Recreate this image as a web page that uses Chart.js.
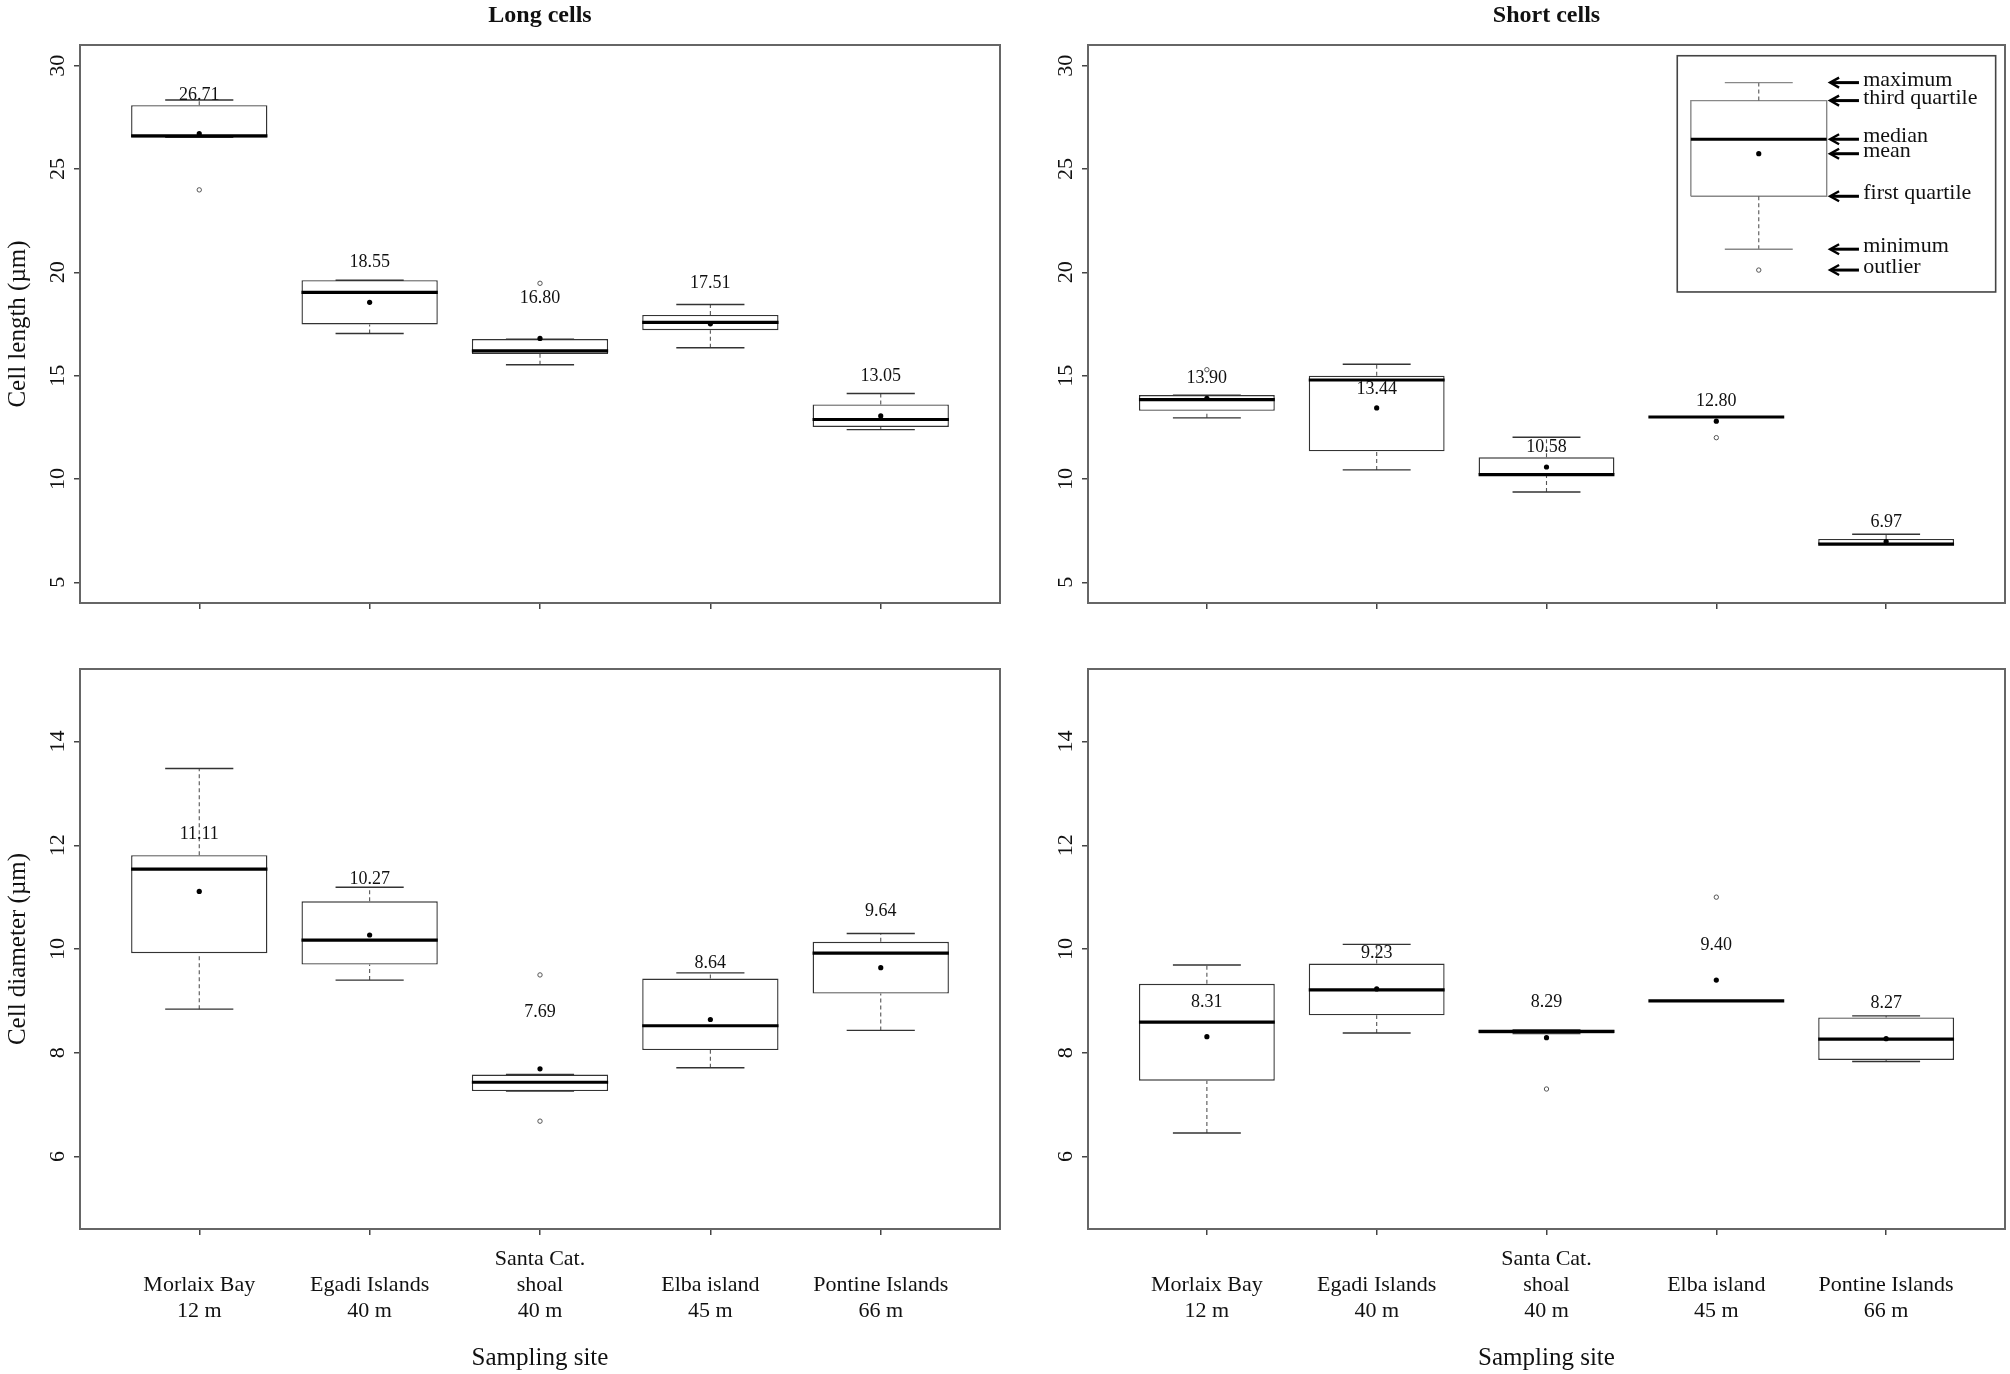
<!DOCTYPE html>
<html>
<head>
<meta charset="utf-8">
<script src="https://cdn.jsdelivr.net/npm/chart.js@4.4.1/dist/chart.umd.min.js"></script>
<style>
  html, body { margin: 0; padding: 0; background: #fff; }
  #wrap { position: relative; width: 2010px; height: 1374px; }
  canvas { position: absolute; }
</style>
</head>
<body>
<div id="wrap">
  <canvas id="longLen" width="1005" height="637" style="left:0;top:0"></canvas>
  <canvas id="shortLen" width="1005" height="637" style="left:1005px;top:0"></canvas>
  <canvas id="longDia" width="1005" height="737" style="left:0;top:637px"></canvas>
  <canvas id="shortDia" width="1005" height="737" style="left:1005px;top:637px"></canvas>
</div>
<script>
// sites on the x axis (empty first line keeps two-line labels aligned with the three-line one)
const siteLabels = [
    ['', 'Morlaix Bay', '12 m'],
    ['', 'Egadi Islands', '40 m'],
    ['Santa Cat.', 'shoal', '40 m'],
    ['', 'Elba island', '45 m'],
    ['', 'Pontine Islands', '66 m']
];
const sitePos = [1, 2, 3, 4, 5];

const lengthTicks = [5, 10, 15, 20, 25, 30];
const diameterTicks = [6, 8, 10, 12, 14];

// Long cells - cell length
const longLenMin = [26.53, 17.04, 15.53, 16.35, 12.39];
const longLenQ1 = [26.53, 17.48, 16.05, 17.20, 12.52];
const longLenMed = [26.60, 19.03, 16.20, 17.58, 12.88];
const longLenQ3 = [28.09, 19.62, 16.77, 17.94, 13.61];
const longLenMax = [28.34, 19.62, 16.77, 18.44, 14.14];
const longLenMean = [26.71, 18.55, 16.80, 17.51, 13.05];
const longLenOut = [[23.99], [], [19.47], [], []];
const longLenLabelY = [28.57, 20.49, 18.75, 19.45, 14.98];

// Short cells - cell length
const shortLenMin = [12.96, 10.44, 9.37, 13.0, 6.85];
const shortLenQ1 = [13.30, 11.34, 10.21, 13.0, 6.85];
const shortLenMed = [13.84, 14.79, 10.21, 13.0, 6.85];
const shortLenQ3 = [14.06, 15.00, 11.05, 13.0, 7.10];
const shortLenMax = [14.06, 15.55, 12.02, 13.0, 7.33];
const shortLenMean = [13.90, 13.44, 10.58, 12.80, 6.97];
const shortLenOut = [[15.29], [], [], [12.0], []];
const shortLenLabelY = [14.87, 14.35, 11.53, 13.74, 7.92];

// Long cells - cell diameter
const longDiaMin = [8.84, 9.40, 7.26, 7.71, 8.43];
const longDiaQ1 = [9.92, 9.70, 7.26, 8.05, 9.14];
const longDiaMed = [11.54, 10.17, 7.43, 8.52, 9.92];
const longDiaQ3 = [11.81, 10.92, 7.58, 9.43, 10.14];
const longDiaMax = [13.48, 11.19, 7.58, 9.54, 10.30];
const longDiaMean = [11.11, 10.27, 7.69, 8.64, 9.64];
const longDiaOut = [[], [], [9.50, 6.68], [], []];
const longDiaLabelY = [12.22, 11.34, 8.78, 9.73, 10.72];

// Short cells - cell diameter
const shortDiaMin = [6.45, 8.38, 8.37, 9.0, 7.83];
const shortDiaQ1 = [7.46, 8.72, 8.37, 9.0, 7.86];
const shortDiaMed = [8.59, 9.21, 8.41, 9.0, 8.26];
const shortDiaQ3 = [9.33, 9.72, 8.44, 9.0, 8.68];
const shortDiaMax = [9.69, 10.09, 8.44, 9.0, 8.71];
const shortDiaMean = [8.31, 9.23, 8.29, 9.40, 8.27];
const shortDiaOut = [[], [], [7.30], [11.0], []];
const shortDiaLabelY = [8.98, 9.91, 8.98, 10.07, 8.95];

// schematic legend box (drawn in the short cell length panel)
const legendKeys = ['maximum', 'third quartile', 'median', 'mean', 'first quartile', 'minimum', 'outlier'];
const legendValues = [29.18, 28.31, 26.44, 25.74, 23.68, 21.12, 20.11];
const legendPos = [4.25];


Chart.defaults.font.family = '"Liberation Serif", "Times New Roman", serif';
Chart.defaults.color = '#111';

const FONT = '"Liberation Serif", "Times New Roman", serif';

function seg(x1, y1, x2, y2) {
    return [{ x: x1, y: y1 }, { x: x2, y: y2 }, { x: x2, y: null }];
}

function lineSet(segs, color, width, dash, order) {
    return {
        type: 'line',
        data: segs.flat(),
        borderColor: color,
        borderWidth: width,
        borderDash: dash,
        borderCapStyle: 'butt',
        pointRadius: 0,
        spanGaps: false,
        tension: 0,
        fill: false,
        xAxisID: 'x',
        yAxisID: 'y',
        order: order
    };
}

function boxplotSets(st, pos, boxColor, useBars) {
    const meds = [], caps = [], stems = [], outs = [], outlines = [];
    pos.forEach((p, i) => {
        meds.push(seg(p - 0.4, st.med[i], p + 0.4, st.med[i]));
        caps.push(seg(p - 0.2, st.max[i], p + 0.2, st.max[i]));
        caps.push(seg(p - 0.2, st.min[i], p + 0.2, st.min[i]));
        if (st.max[i] > st.q3[i]) stems.push(seg(p, st.q3[i], p, st.max[i]));
        if (st.min[i] < st.q1[i]) stems.push(seg(p, st.min[i], p, st.q1[i]));
        st.out[i].forEach(v => outs.push({ x: p, y: v }));
        outlines.push([
            { x: p - 0.4, y: st.q1[i] }, { x: p + 0.4, y: st.q1[i] },
            { x: p + 0.4, y: st.q3[i] }, { x: p - 0.4, y: st.q3[i] },
            { x: p - 0.4, y: st.q1[i] }, { x: p - 0.4, y: null }
        ]);
    });

    const sets = [
        {
            type: 'scatter',
            data: pos.map((p, i) => ({ x: p, y: st.mean[i] })),
            pointRadius: 2.6,
            pointBackgroundColor: '#000',
            pointBorderWidth: 0,
            xAxisID: 'x', yAxisID: 'y',
            order: 0
        },
        {
            type: 'scatter',
            data: outs,
            pointRadius: 2.2,
            pointBackgroundColor: '#fff',
            pointBorderColor: '#555',
            pointBorderWidth: 1,
            xAxisID: 'x', yAxisID: 'y',
            order: 1
        },
        lineSet(meds, '#000', 3.2, [], 2),
        lineSet(caps, boxColor, 1.4, [], 3),
        lineSet(stems, '#555', 1.1, [4, 3], 4)
    ];
    if (useBars) {
        sets.push({
            type: 'bar',
            data: pos.map((p, i) => ({ x: p, y: [st.q1[i], st.q3[i]] })),
            backgroundColor: '#fff',
            borderColor: boxColor,
            borderWidth: 1.4,
            borderSkipped: false,
            barPercentage: 0.8,
            categoryPercentage: 1,
            xAxisID: 'x', yAxisID: 'y',
            order: 5
        });
    } else {
        sets.push(lineSet(outlines, boxColor, 1.4, [], 5));
    }
    return sets;
}

function decorPlugin(opt) {
    return {
        id: 'decor',
        beforeDatasetsDraw(chart) {
            if (!opt.legend) return;
            const xs = chart.scales.x, ys = chart.scales.y, c = chart.ctx;
            const l = xs.getPixelForValue(3.77), r = xs.getPixelForValue(5.645);
            const t = ys.getPixelForValue(30.48), b = ys.getPixelForValue(19.05);
            c.save();
            c.fillStyle = '#fff';
            c.fillRect(l, t, r - l, b - t);
            c.strokeStyle = '#444';
            c.lineWidth = 1.6;
            c.strokeRect(l, t, r - l, b - t);
            c.restore();
        },
        afterDraw(chart) {
            const xs = chart.scales.x, ys = chart.scales.y, c = chart.ctx, a = chart.chartArea;
            c.save();
            c.strokeStyle = '#666';
            c.lineWidth = 2;
            c.strokeRect(a.left, a.top, a.right - a.left, a.bottom - a.top);

            // rotated y tick labels, as in R
            c.fillStyle = '#111';
            c.font = '22px ' + FONT;
            c.textAlign = 'center';
            c.textBaseline = 'middle';
            ys.ticks.forEach(tk => {
                c.save();
                c.translate(a.left - 22, ys.getPixelForValue(tk.value));
                c.rotate(-Math.PI / 2);
                c.fillText(String(tk.value), 0, 0);
                c.restore();
            });

            // mean values written above the boxes
            c.font = '18px ' + FONT;
            opt.stats.mean.forEach((m, i) => {
                c.fillText(m.toFixed(2), xs.getPixelForValue(sitePos[i]), ys.getPixelForValue(opt.labelY[i]));
            });

            if (opt.legend) {
                const x0 = xs.getPixelForValue(4.67), x1 = xs.getPixelForValue(4.84);
                const xt = xs.getPixelForValue(4.865);
                c.font = '22px ' + FONT;
                c.textAlign = 'left';
                c.textBaseline = 'alphabetic';
                legendKeys.forEach((k, i) => {
                    const py = ys.getPixelForValue(legendValues[i]);
                    c.strokeStyle = '#000';
                    c.lineWidth = 3;
                    c.beginPath();
                    c.moveTo(x1, py);
                    c.lineTo(x0 + 2, py);
                    c.stroke();
                    c.lineWidth = 2.4;
                    c.beginPath();
                    c.moveTo(x0 + 9, py - 5);
                    c.lineTo(x0, py);
                    c.lineTo(x0 + 9, py + 5);
                    c.stroke();
                    c.fillText(k, xt, py + 3);
                });
            }
            c.restore();
        }
    };
}

function makePanel(id, opt) {
    let datasets = boxplotSets(opt.stats, sitePos, '#333', true);
    const scales = {
        x: {
            type: 'linear', min: 0.3, max: 5.7, offset: false,
            afterBuildTicks: s => { s.ticks = sitePos.map(v => ({ value: v })); },
            afterFit: s => { s.height = opt.xHeight; },
            grid: { display: true, offset: false, drawOnChartArea: false, drawTicks: true, tickLength: 6, color: '#444', lineWidth: 1.5 },
            border: { display: false },
            ticks: {
                display: opt.showX, autoSkip: false, maxRotation: 0, minRotation: 0, padding: 11,
                color: '#111', font: { size: 22, lineHeight: 26 / 22 },
                callback: v => siteLabels[sitePos.indexOf(v)] || ''
            },
            title: {
                display: opt.showX, text: 'Sampling site', color: '#111',
                font: { size: 25, lineHeight: 1.2 }, padding: { top: 0, bottom: 1 }
            }
        },
        y: {
            type: 'linear', min: opt.ymin, max: opt.ymax,
            afterBuildTicks: s => { s.ticks = opt.ticks.map(v => ({ value: v })); },
            afterFit: s => { s.width = opt.yWidth; },
            grid: { display: true, drawOnChartArea: false, drawTicks: true, tickLength: 6, color: '#444', lineWidth: 1.5 },
            border: { display: false },
            ticks: { display: false },
            title: {
                display: !!opt.yTitle, text: opt.yTitle || '', color: '#111',
                font: { size: 25, lineHeight: 1.2 }, padding: { top: 3, bottom: 0 }
            }
        }
    };
    if (opt.title) {
        scales.xt = {
            type: 'linear', position: 'top', min: 0, max: 1,
            afterFit: s => { s.height = 45; },
            grid: { display: false }, border: { display: false }, ticks: { display: false },
            title: {
                display: true, text: opt.title, color: '#111',
                font: { size: 24, weight: 'bold', lineHeight: 1.2 }, padding: { top: 1, bottom: 0 }
            }
        };
    }
    if (opt.legend) {
        const lv = legendValues;
        const legendStats = {
            max: [lv[0]], q3: [lv[1]], med: [lv[2]], mean: [lv[3]],
            q1: [lv[4]], min: [lv[5]], out: [[lv[6]]]
        };
        datasets = datasets.concat(boxplotSets(legendStats, legendPos, '#888', false));
    }

    new Chart(document.getElementById(id), {
        type: 'bar',
        data: { datasets: datasets },
        options: {
            responsive: false,
            animation: false,
            devicePixelRatio: 1,
            layout: { padding: { top: opt.padTop, right: opt.padRight, left: 0, bottom: 0 } },
            plugins: {
                legend: { display: false },
                tooltip: { enabled: false },
                title: { display: false }
            },
            scales: scales
        },
        plugins: [decorPlugin(opt)]
    });
}

makePanel('longLen', {
    stats: { min: longLenMin, q1: longLenQ1, med: longLenMed, q3: longLenQ3, max: longLenMax, mean: longLenMean, out: longLenOut },
    labelY: longLenLabelY, ticks: lengthTicks, ymin: 4, ymax: 31,
    yWidth: 80, padTop: 0, padRight: 5, xHeight: 34, showX: false,
    yTitle: 'Cell length (µm)', title: 'Long cells'
});

makePanel('shortLen', {
    stats: { min: shortLenMin, q1: shortLenQ1, med: shortLenMed, q3: shortLenQ3, max: shortLenMax, mean: shortLenMean, out: shortLenOut },
    labelY: shortLenLabelY, ticks: lengthTicks, ymin: 4, ymax: 31,
    yWidth: 83, padTop: 0, padRight: 3, xHeight: 34, showX: false,
    title: 'Short cells', legend: true
});

makePanel('longDia', {
    stats: { min: longDiaMin, q1: longDiaQ1, med: longDiaMed, q3: longDiaQ3, max: longDiaMax, mean: longDiaMean, out: longDiaOut },
    labelY: longDiaLabelY, ticks: diameterTicks, ymin: 4.6, ymax: 15.4,
    yWidth: 80, padTop: 32, padRight: 5, xHeight: 145, showX: true,
    yTitle: 'Cell diameter (µm)'
});

makePanel('shortDia', {
    stats: { min: shortDiaMin, q1: shortDiaQ1, med: shortDiaMed, q3: shortDiaQ3, max: shortDiaMax, mean: shortDiaMean, out: shortDiaOut },
    labelY: shortDiaLabelY, ticks: diameterTicks, ymin: 4.6, ymax: 15.4,
    yWidth: 83, padTop: 32, padRight: 3, xHeight: 145, showX: true
});
</script>
</body>
</html>
